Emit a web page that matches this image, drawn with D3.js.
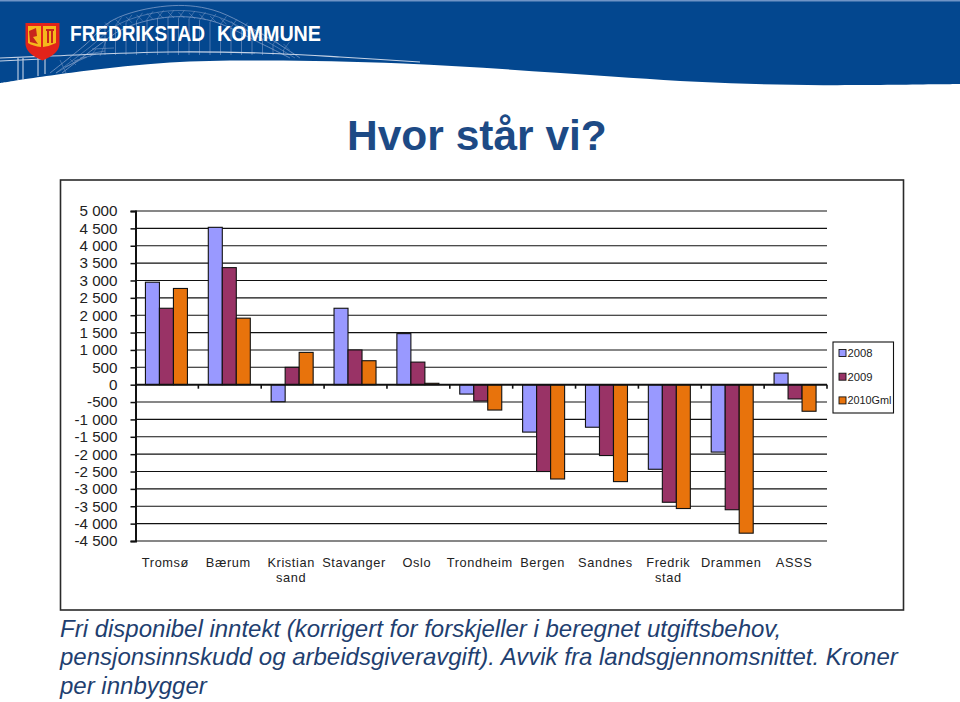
<!DOCTYPE html>
<html><head><meta charset="utf-8">
<script src="https://cdn.jsdelivr.net/npm/d3@7"></script>
<style>html,body{margin:0;padding:0;background:#fff}svg{display:block}text{font-family:"Liberation Sans",Arial,sans-serif}</style>
</head><body><div id="c"></div>
<script>
const categories=[["Tromsø"],["Bærum"],["Kristian","sand"],["Stavanger"],["Oslo"],["Trondheim"],["Bergen"],["Sandnes"],["Fredrik","stad"],["Drammen"],["ASSS"]];
const seriesNames=["2008","2009","2010Gml"];
const seriesColors=["#9999ff","#993366","#e8730c"];
const v2008=[2950,4530,-490,2200,1470,-270,-1365,-1225,-2435,-1940,335];
const v2009=[2200,3370,500,1000,650,-470,-2500,-2040,-3385,-3600,-410];
const v2010=[2770,1915,930,690,40,-730,-2715,-2790,-3565,-4275,-765];
const yTicks=[5000,4500,4000,3500,3000,2500,2000,1500,1000,500,0,-500,-1000,-1500,-2000,-2500,-3000,-3500,-4000,-4500];
const footer=["Fri disponibel inntekt (korrigert for forskjeller i beregnet utgiftsbehov,","pensjonsinnskudd og arbeidsgiveravgift). Avvik fra landsgjennomsnittet. Kroner","per innbygger"];
const series=[v2008,v2009,v2010];

const svg=d3.select("#c").append("svg").attr("width",960).attr("height",702);
// header
const blue="#03478f";
const curve=d3.line().curve(d3.curveBasis);
const hdr=[[0,83],[0,83],[80,71],[170,61],[260,60],[400,62],[560,73],[700,83],[820,86],[960,84],[960,84]];
svg.append("path").attr("d",curve(hdr)+"L960,0L0,0Z").attr("fill",blue);
svg.append("rect").attr("width",960).attr("height",1.5).attr("fill","#6f94c6");
// bridge
const arch=d3.line().curve(d3.curveCatmullRom);
const br=svg.append("g").attr("fill","none").attr("stroke","#7f9cc8").attr("stroke-width",.8);
const outer=[[50,73],[85,45],[113,20],[167,6],[213,10],[267,37],[300,58]];
const inner=[[62,73],[95,48],[125,28],[170,17],[212,21],[262,44],[290,58]];
br.append("path").attr("d",arch(outer));
br.append("path").attr("d",arch(inner));
br.append("path").attr("d",arch([[56,73],[90,47],[119,24],[168,11],[212,15],[264,40],[295,58]])).attr("opacity",.7);
// lattice hangers under the arch
d3.range(105,285,10.5).forEach(px=>{
 const t=(px-170)/130, top=18+42*t*t;
 br.append("line").attr("x1",px).attr("x2",px).attr("y1",top).attr("y2",55).attr("opacity",.75);
 br.append("line").attr("x1",px).attr("x2",px+6).attr("y1",top-6).attr("y2",top).attr("opacity",.6);
 br.append("line").attr("x1",px+6).attr("x2",px).attr("y1",top-8).attr("y2",top).attr("opacity",.6);
});
d3.range(0,5).forEach(k=>{ br.append("line").attr("x1",56+k*9).attr("y1",73-k*6).attr("x2",78+k*9).attr("y2",60-k*3).attr("opacity",.7);
 br.append("line").attr("x1",60+k*10).attr("y1",60-k*1).attr("x2",66+k*10).attr("y2",73-k*8).attr("opacity",.6);});
const road=svg.append("g").attr("fill","none").attr("stroke","#c6d3e6").attr("stroke-width",1.1);
road.append("path").attr("d",arch([[0,58],[50,56],[170,52],[260,53],[340,57],[420,62]]));
road.append("path").attr("d","M0,61L42,59M18,58V80M23,58V80M38,57V76M45,57V74");
// shield
svg.append("path").attr("d","M25.5,23H59.5V44Q59,54 42.5,60.5Q26,54 25.5,44Z").attr("fill","#e2231a");
svg.append("path").attr("d","M28,26H41V47Q33,46 28,43ZM43,26H56V43Q50,46 43,47Z").attr("fill","#f5b81c");
svg.append("path").attr("d","M29,31L36,28L37,36L33,37L38,44L30,42Z").attr("fill","#c8261c");
svg.append("path").attr("d","M46,30H54M48,30V43M52,30V43").attr("stroke","#c8261c").attr("stroke-width",2).attr("fill","none");
const logo=svg.append("g").attr("font-size",21.5).attr("font-weight","bold").attr("fill","#fff");
logo.append("text").attr("x",70).attr("y",41).attr("textLength",135).attr("lengthAdjust","spacingAndGlyphs").text("FREDRIKSTAD");
logo.append("text").attr("x",217).attr("y",41).attr("textLength",104).attr("lengthAdjust","spacingAndGlyphs").text("KOMMUNE");
// title
svg.append("text").attr("x",347).attr("y",150).attr("font-size",42.5).attr("font-weight","bold").attr("fill","#1d4a85").text("Hvor står vi?");
// frame
svg.append("rect").attr("x",60.5).attr("y",180).attr("width",843).attr("height",430).attr("fill","#fff").attr("stroke","#2a2a2a").attr("stroke-width",1.6);

const y=d3.scaleLinear().domain([-4500,5000]).range([541,211]);
const x=d3.scaleBand().domain(d3.range(categories.length)).range([135.5,827]).paddingInner(0).paddingOuter(0);
const bw=14;
// gridlines
svg.append("g").selectAll("line").data(yTicks.filter(d=>d!==0)).join("line")
 .attr("x1",135).attr("x2",827).attr("y1",d=>y(d)).attr("y2",d=>y(d)).attr("stroke","#111").attr("stroke-width",1.1);
// bars
series.forEach((vals,si)=>{
 svg.append("g").selectAll("rect").data(vals).join("rect")
  .attr("x",(d,i)=>x(i)+x.bandwidth()/2-21.5+si*bw)
  .attr("width",bw)
  .attr("y",d=>Math.min(y(d),y(0)))
  .attr("height",d=>Math.abs(y(d)-y(0)))
  .attr("fill",seriesColors[si]).attr("stroke","#111").attr("stroke-width",1.1);
});
// y axis
const fmt=d=>{const a=Math.abs(d);const s=a>=1000?Math.floor(a/1000)+" "+String(a%1000).padStart(3,"0"):String(a);return (d<0?"-":"")+s;};
const ya=svg.append("g").attr("transform","translate(135.5,0)").call(d3.axisLeft(y).tickValues(yTicks).tickFormat(fmt).tickSize(5).tickPadding(13));
ya.select(".domain").attr("stroke","#111").attr("stroke-width",2);
ya.selectAll("line").attr("stroke","#111").attr("stroke-width",1.5);
ya.selectAll("text").attr("font-size",15.2).attr("fill","#222").style("font-family",'"Liberation Sans"');
// x axis at zero
const xa=svg.append("g").attr("transform",`translate(0,${y(0)})`);
xa.append("line").attr("x1",135).attr("x2",827).attr("stroke","#111").attr("stroke-width",2);
xa.selectAll("line.t").data(d3.range(1,categories.length+1)).join("line").attr("class","t")
 .attr("x1",d=>x.range()[0]+d*x.step()).attr("x2",d=>x.range()[0]+d*x.step()).attr("y1",0).attr("y2",4).attr("stroke","#111").attr("stroke-width",1.6);
// category labels
categories.forEach((c,i)=>{
 c.forEach((s,k)=>svg.append("text").attr("x",x(i)+x.bandwidth()/2-1.5).attr("y",567+k*14.7).attr("text-anchor","middle").attr("font-size",12.8).attr("letter-spacing",.6).attr("fill","#222").text(s));
});
// legend
svg.append("rect").attr("x",833).attr("y",342).attr("width",60.5).attr("height",71).attr("fill","#fff").attr("stroke","#111").attr("stroke-width",1.1);
seriesNames.forEach((n,i)=>{
 const ly=353+i*23.7;
 svg.append("rect").attr("x",839).attr("y",ly-3.5).attr("width",7).attr("height",7).attr("fill",seriesColors[i]).attr("stroke","#111").attr("stroke-width",.9);
 svg.append("text").attr("x",847.5).attr("y",ly+4).attr("font-size",11.5).attr("fill","#222").attr("textLength",i==2?44:25).attr("lengthAdjust","spacingAndGlyphs").text(n);
});
// footer
footer.forEach((s,i)=>svg.append("text").attr("x",60).attr("y",636.5+i*28.7).attr("font-size",24).attr("font-style","italic").attr("fill","#1f3f70").text(s));
</script></body></html>
